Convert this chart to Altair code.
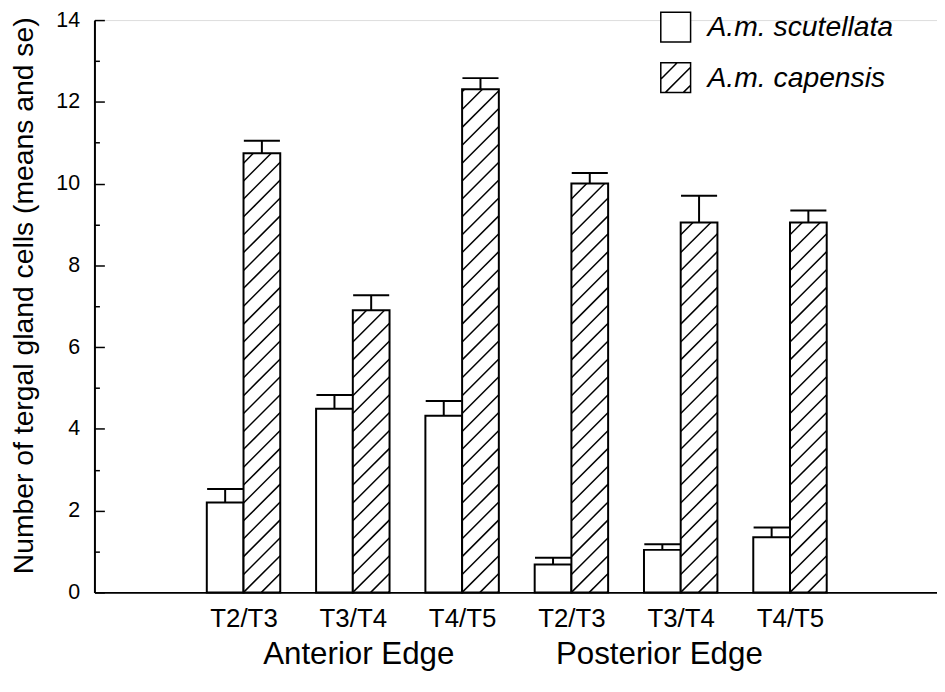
import altair as alt
import pandas as pd
import math

# ---------------- data ----------------
segments = ["T2/T3", "T3/T4", "T4/T5", "T2/T3", "T3/T4", "T4/T5"]
edges = ["Anterior Edge", "Posterior Edge"]
species = ["A.m. scutellata", "A.m. capensis"]
scut_mean = [2.20, 4.49, 4.32, 0.68, 1.04, 1.35]
scut_se = [0.33, 0.34, 0.36, 0.17, 0.14, 0.24]
cap_mean = [10.74, 6.90, 12.31, 10.00, 9.05, 9.05]
cap_se = [0.31, 0.37, 0.27, 0.26, 0.65, 0.29]
y_title = "Number of tergal gland cells (means and se)"

# ---------------- layout constants ----------------
W, H = 848, 576
XMIN, XMAX = -0.364, 7.345
YMAX = 14
BW = 0.336          # bar width in x units
CAP_HALF = 0.165    # half width of error cap
EDGE_LABEL_POS = [2.05, 4.8]
HATCH_SPACING_PX = 18

positions = list(range(1, len(segments) + 1))

# bars
bar_rows = []
for i, p in enumerate(positions):
    bar_rows.append(dict(species=species[0], x=p - BW, x2=p, y=scut_mean[i], y2=0))
    bar_rows.append(dict(species=species[1], x=p, x2=p + BW, y=cap_mean[i], y2=0))
bar_df = pd.DataFrame(bar_rows)

# hatch segments (45 degrees on screen) derived from capensis bars
px_x = W / (XMAX - XMIN)
px_y = H / YMAX
k = px_x / px_y
s = HATCH_SPACING_PX / px_y
hatch_rows = []
for i, p in enumerate(positions):
    v = cap_mean[i]
    j = -int(math.ceil(k * BW / s))
    while True:
        c = j * s
        if c >= v:
            break
        xs = p + max(0.0, (0 - c) / k)
        xe = p + min(BW, (v - c) / k)
        if xe > xs + 1e-6:
            hatch_rows.append(dict(x=xs, x2=xe, y=c + k * (xs - p), y2=c + k * (xe - p)))
        j += 1
hatch_df = pd.DataFrame(hatch_rows)

# error bars (upper only)
err_rows = []
for i, p in enumerate(positions):
    for cx, m, se in ((p - BW / 2, scut_mean[i], scut_se[i]), (p + BW / 2, cap_mean[i], cap_se[i])):
        err_rows.append(dict(x=cx, x2=cx, y=m, y2=m + se))
        err_rows.append(dict(x=cx - CAP_HALF, x2=cx + CAP_HALF, y=m + se, y2=m + se))
err_df = pd.DataFrame(err_rows)

FONT = "Liberation Sans"
xscale = alt.Scale(domain=[XMIN, XMAX], nice=False, zero=False)
yscale = alt.Scale(domain=[0, YMAX], nice=False, zero=True)

seg_js = "[" + ",".join("'" + t + "'" for t in segments) + "]"
edge_js = "[" + ",".join("'" + t + "'" for t in edges) + "]"
pos_js = "[" + ",".join(str(v) for v in EDGE_LABEL_POS) + "]"

SQUARE = "M-1,-1H1V1H-1Z"
HATCH = SQUARE + " M-1,0.1L0.1,-1 M-0.7,1L1,-0.7 M0.5,1L1,0.5"
shape_expr = f"datum.value === '{species[1]}' ? '{HATCH}' : '{SQUARE}'"

bars = alt.Chart(bar_df).mark_rect(stroke="black", strokeWidth=2).encode(
    x=alt.X("x:Q", scale=xscale, axis=alt.Axis(
        orient="bottom", values=positions, labelExpr=f"{seg_js}[round(datum.value)-1]",
        ticks=False, grid=False, domain=True, domainColor="black", domainWidth=2,
        labelFontSize=26, labelFont=FONT, labelColor="black", labelPadding=34,
        labelBaseline="alphabetic", labelFlush=False, labelOverlap=False,
        labelLimit=0, title=None)),
    x2="x2:Q",
    y=alt.Y("y:Q", scale=yscale, axis=alt.Axis(
        orient="left", values=list(range(0, YMAX + 1, 2)), ticks=False, grid=False,
        domain=True, domainColor="black", domainWidth=2,
        labelFontSize=21.5, labelFont=FONT, labelColor="black", labelPadding=15,
        labelFlush=False, labelOverlap=False, labelLimit=0,
        title=y_title, titleFontSize=28.5, titleFont=FONT, titleColor="black",
        titleFontWeight="normal", titleX=-62, titleY=277, titleAngle=270,
        titleBaseline="alphabetic", titleAlign="center", titleLimit=2000)),
    y2="y2:Q",
    fill=alt.Fill("species:N", scale=alt.Scale(domain=species, range=["white", "white"]),
                  legend=alt.Legend(
                      orient="none", legendX=569, legendY=-9, title=None, padding=0,
                      symbolSize=900, symbolStrokeColor="black", symbolStrokeWidth=1.5,
                      symbolFillColor="white", symbolOpacity=1,
                      symbolType=alt.expr(shape_expr),
                      labelFont=FONT, labelFontSize=28.5, labelFontStyle="italic",
                      labelColor="black", labelOffset=16, rowPadding=15,
                      labelLimit=0)),
)

hatch = alt.Chart(hatch_df).mark_rule(color="black", strokeWidth=1.5).encode(
    x=alt.X("x:Q", scale=xscale, axis=alt.Axis(
        orient="bottom", values=EDGE_LABEL_POS,
        labelExpr=f"{edge_js}[indexof({pos_js}, datum.value)]",
        ticks=False, domain=False, grid=False, labelFontSize=31.5, labelFont=FONT,
        labelColor="black", labelPadding=72, labelBaseline="alphabetic",
        labelFlush=False, labelOverlap=False, labelLimit=0, title=None)),
    x2="x2:Q",
    y=alt.Y("y:Q", scale=yscale, axis=alt.Axis(
        orient="left", offset=-10, values=list(range(0, YMAX + 1, 2)), tickSize=10,
        tickWidth=1.5, tickColor="black", labels=False, domain=False, grid=False, title=None)),
    y2="y2:Q",
)

errs = alt.Chart(err_df).mark_rule(color="black", strokeWidth=2).encode(
    x=alt.X("x:Q", scale=xscale, axis=None),
    x2="x2:Q",
    y=alt.Y("y:Q", scale=yscale, axis=alt.Axis(
        orient="left", offset=-5, values=list(range(1, YMAX, 2)), tickSize=5,
        tickWidth=1.5, tickColor="black", labels=False, domain=False, grid=False, title=None)),
    y2="y2:Q",
)

chart = alt.layer(bars, hatch, errs).resolve_axis(x="independent", y="independent").properties(
    width=W, height=H,
    padding={"left": 87, "top": 10, "right": 0, "bottom": 82},
    autosize=alt.AutoSizeParams(type="none"),
).configure_view(stroke=None).configure(background="white", font=FONT)

chart.save("out.html", embed_options={"renderer": "svg", "actions": False})
